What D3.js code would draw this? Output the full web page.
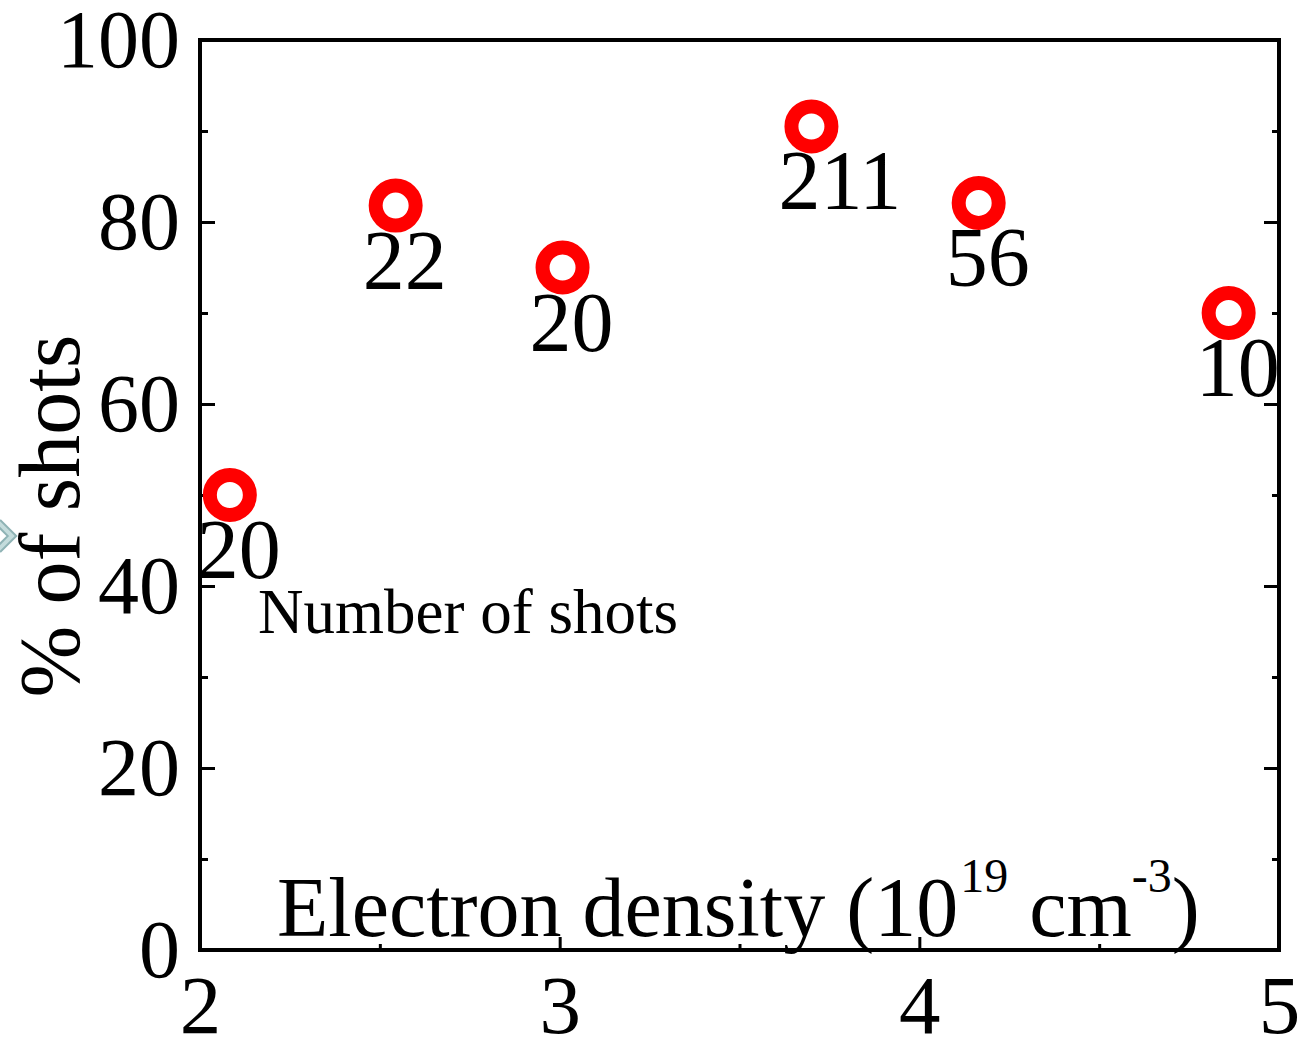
<!DOCTYPE html>
<html>
<head>
<meta charset="utf-8">
<script src="https://cdn.jsdelivr.net/npm/d3@7"></script>
<style>
  html, body { margin: 0; padding: 0; background: #fff; }
  svg { display: block; }
  text { font-family: "Liberation Serif", "Times New Roman", serif; fill: #000; }
</style>
</head>
<body>
<script>
// Electron density (10^19 cm^-3) for each group of shots
const density = [2.083, 2.544, 3.008, 3.70, 4.165, 4.86];
// Percentage of shots in each group
const percent = [50.0, 81.8, 75.0, 90.5, 82.1, 70.0];
// Number of shots in each group (drawn under each marker)
const shots = [20, 22, 20, 211, 56, 10];

const xMajor = [2, 3, 4, 5];
const xMinor = [2.5, 3.5, 4.5];
const yMajor = [0, 20, 40, 60, 80, 100];
const yMinor = [10, 30, 50, 70, 90];

const W = 1299, H = 1037;
const plotLeft = 200, plotRight = 1279, plotTop = 40, plotBottom = 950;

const svg = d3.select("body").append("svg")
  .attr("width", W).attr("height", H);

const x = d3.scaleLinear().domain([2, 5]).range([plotLeft, plotRight]);
const y = d3.scaleLinear().domain([0, 100]).range([plotBottom, plotTop]);

function styleAxis(g, fontSize) {
  g.select(".domain").remove();
  g.selectAll(".tick line").attr("stroke", "#000").attr("stroke-width", 3);
  g.selectAll(".tick text").style("font-size", fontSize + "px")
    .style("font-family", '"Liberation Serif", "Times New Roman", serif');
}

// left axis: major ticks with labels, minor ticks without
svg.append("g").attr("transform", `translate(${plotLeft},0)`)
  .call(d3.axisLeft(y).tickValues(yMajor).tickSize(-15).tickPadding(20).tickFormat(d3.format("d")))
  .call(g => styleAxis(g, 82));
svg.append("g").attr("transform", `translate(${plotLeft},0)`)
  .call(d3.axisLeft(y).tickValues(yMinor).tickSize(-8).tickFormat(""))
  .call(g => styleAxis(g, 82));

// right axis: ticks only
svg.append("g").attr("transform", `translate(${plotRight},0)`)
  .call(d3.axisRight(y).tickValues(yMajor).tickSize(-15).tickFormat(""))
  .call(g => styleAxis(g, 82));
svg.append("g").attr("transform", `translate(${plotRight},0)`)
  .call(d3.axisRight(y).tickValues(yMinor).tickSize(-7).tickFormat(""))
  .call(g => styleAxis(g, 82));

// bottom axis
svg.append("g").attr("transform", `translate(0,${plotBottom})`)
  .call(d3.axisBottom(x).tickValues(xMajor).tickSize(-13).tickPadding(24).tickFormat(d3.format("d")))
  .call(g => styleAxis(g, 83));
svg.append("g").attr("transform", `translate(0,${plotBottom})`)
  .call(d3.axisBottom(x).tickValues(xMinor).tickSize(-6).tickFormat(""))
  .call(g => styleAxis(g, 83));

// plot frame
svg.append("rect")
  .attr("x", plotLeft).attr("y", plotTop)
  .attr("width", plotRight - plotLeft).attr("height", plotBottom - plotTop)
  .attr("fill", "none").attr("stroke", "#000").attr("stroke-width", 4);

// shot-count labels under each marker
const pts = density.map((d, i) => ({ x: d, y: percent[i], n: shots[i] }));

svg.append("g").selectAll("text")
  .data(pts).join("text")
  .attr("x", d => x(d.x) - 33)
  .attr("y", d => y(d.y) + 83)
  .style("font-size", "84px")
  .text(d => d.n);

// open red circle markers
svg.append("g").selectAll("circle")
  .data(pts).join("circle")
  .attr("cx", d => x(d.x))
  .attr("cy", d => y(d.y))
  .attr("r", 20)
  .attr("fill", "none")
  .attr("stroke", "#ff0000")
  .attr("stroke-width", 14);

// annotation for the numbers under the markers
svg.append("text")
  .attr("x", 258).attr("y", 633)
  .style("font-size", "63px")
  .text("Number of shots");

// x-axis title drawn inside the plot area
const xt = svg.append("text")
  .attr("x", 277).attr("y", 936)
  .style("font-size", "84px");
xt.append("tspan").text("Electron density (10");
xt.append("tspan").attr("dx", 2).attr("dy", -44).style("font-size", "48px").text("19");
xt.append("tspan").attr("dy", 44).text("\u00a0cm");
xt.append("tspan").attr("dy", -44).style("font-size", "48px").text("-3");
xt.append("tspan").attr("dy", 44).text(")");

// y-axis title
svg.append("text")
  .attr("transform", "translate(79,516) rotate(-90)")
  .attr("text-anchor", "middle")
  .style("font-size", "86px")
  .text("% of shots");

// small chevron at the left edge
svg.append("path")
  .attr("d", "M-2,522 L12,536 L-2,550")
  .attr("fill", "none")
  .attr("stroke", "#8fb3b5")
  .attr("stroke-width", 8);
svg.append("path")
  .attr("d", "M-2,522 L12,536 L-2,550")
  .attr("fill", "none")
  .attr("stroke", "#c4dcdc")
  .attr("stroke-width", 4);
</script>
</body>
</html>
